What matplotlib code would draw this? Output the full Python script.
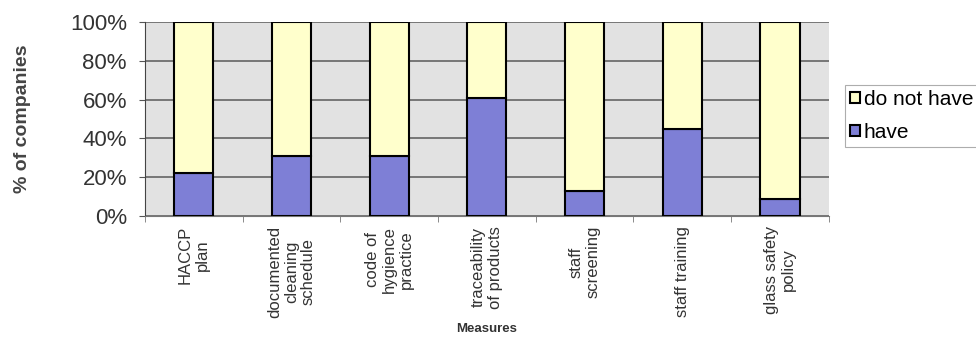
import numpy as np
import matplotlib.pyplot as plt
from matplotlib.ticker import PercentFormatter

# Share of companies with each hygiene measure in place
MEASURES = [
    "HACCP\nplan",
    "documented\ncleaning\nschedule",
    "code of\nhygience\npractice",
    "traceability\nof products",
    "staff\nscreening",
    "staff training",
    "glass safety\npolicy",
]
HAVE = [22, 31, 31, 61, 13, 45, 9]
DO_NOT_HAVE = [100 - v for v in HAVE]

HAVE_COLOR = "#7e7fd6"
NOT_HAVE_COLOR = "#ffffcc"

plt.rcParams["font.family"] = ["Liberation Sans", "DejaVu Sans"]

fig = plt.figure(figsize=(9.76, 3.43), dpi=100)
ax = fig.add_axes([0.1486, 0.370, 0.7006, 0.566])

x = np.arange(len(MEASURES))
ax.bar(x, HAVE, width=0.4, color=HAVE_COLOR, edgecolor="black",
       linewidth=1.5, label="have", zorder=3)
ax.bar(x, DO_NOT_HAVE, width=0.4, bottom=HAVE, color=NOT_HAVE_COLOR,
       edgecolor="black", linewidth=1.5, label="do not have", zorder=3)

ax.set_facecolor("#e2e2e2")
ax.set_xlim(-0.5, len(MEASURES) - 0.5)
ax.set_ylim(0, 100)
ax.set_yticks(np.arange(0, 101, 20))
ax.yaxis.set_major_formatter(PercentFormatter(decimals=0))
ax.grid(axis="y", color="#5a5a5a", linewidth=1.1, zorder=1)

# category labels centred, tick marks on the category boundaries
ax.set_xticks(x)
ax.set_xticklabels(MEASURES, rotation=90, fontsize=12, color="#333333",
                   ha="center", va="top", multialignment="center",
                   linespacing=1.15)
ax.set_xticks(np.arange(len(MEASURES) + 1) - 0.5, minor=True)
ax.tick_params(axis="x", which="major", length=0, pad=7)
ax.tick_params(axis="x", which="minor", length=4, color="#777777")
ax.tick_params(axis="y", labelsize=16, length=4, color="#555555",
               labelcolor="#333333", pad=9)

for side in ("top", "right"):
    ax.spines[side].set_visible(False)
ax.spines["left"].set_color("#444444")
ax.spines["bottom"].set_color("#777777")

ax.set_ylabel("% of companies", fontsize=14, fontweight="bold",
              color="#444444", labelpad=28)
ax.set_xlabel("Measures", fontsize=9.5, fontweight="bold", color="#333333",
              labelpad=4)

handles, labels = ax.get_legend_handles_labels()
leg = fig.legend(handles[::-1], labels[::-1], loc="upper left",
                 bbox_to_anchor=(0.866, 0.752), fontsize=15,
                 frameon=True, fancybox=False, handlelength=0.45,
                 handleheight=0.45, handletextpad=0.2, labelspacing=0.65,
                 borderpad=0.25, borderaxespad=0)
leg.get_frame().set_edgecolor("#999999")
leg.get_frame().set_linewidth(0.8)

fig.savefig("out.png", dpi=100)
